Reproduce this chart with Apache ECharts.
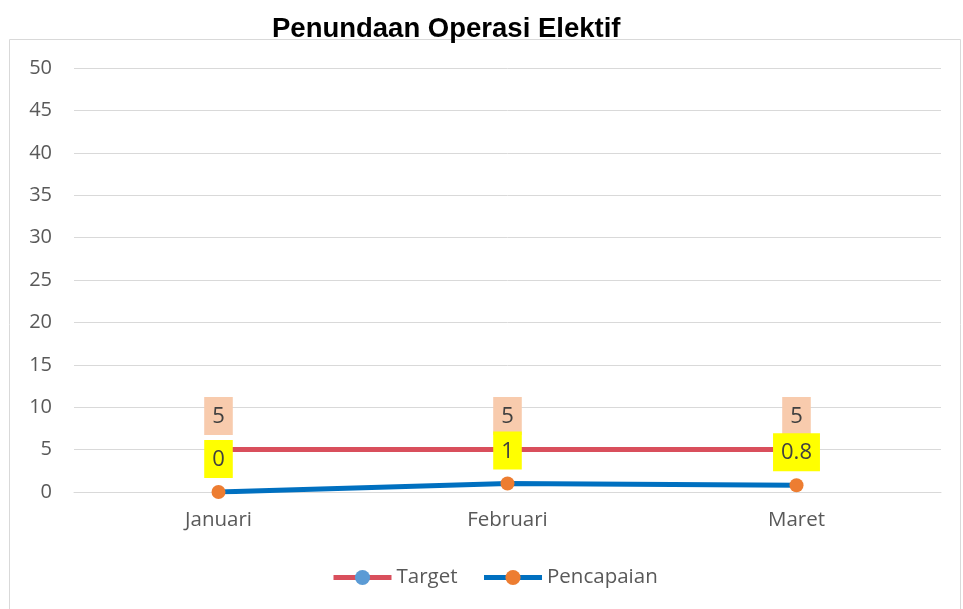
<!DOCTYPE html>
<html>
<head>
<meta charset="utf-8">
<script src="https://cdn.jsdelivr.net/npm/echarts@6/dist/echarts.min.js"></script>
<style>
  html, body { margin: 0; padding: 0; background: #fff; }
  #chart { width: 963px; height: 609px; }
</style>
</head>
<body>
<div id="chart"></div>
<script>
const months = ['Januari', 'Februari', 'Maret'];
const target = [5, 5, 5];
const pencapaian = [0, 1, 0.8];

const font = '"Open Sans", "Liberation Sans", sans-serif';

const chart = echarts.init(document.getElementById('chart'));
chart.setOption({
    animation: false,
    title: {
        text: 'Penundaan Operasi Elektif',
        left: 267,
        top: 10,
        textStyle: { fontFamily: 'Liberation Sans, Arial', fontWeight: 'bold', fontSize: 27.5, color: '#000' }
    },
    graphic: [{
        type: 'rect',
        shape: { x: 9.5, y: 39.5, width: 951, height: 570 },
        style: { fill: 'none', stroke: '#d9d9d9', lineWidth: 1 },
        z: -1
    }],
    grid: { left: 74, right: 22, top: 68, bottom: 117 },
    legend: {
        bottom: 16,
        left: 326,
        itemWidth: 58,
        itemHeight: 19,
        itemGap: 24,
        textStyle: { fontFamily: font, fontSize: 20.5, color: '#595959' },
        data: [
            { name: 'Target', lineStyle: { width: 5 } },
            { name: 'Pencapaian', lineStyle: { width: 5 } }
        ]
    },
    xAxis: {
        type: 'category',
        data: months,
        boundaryGap: true,
        axisLine: { lineStyle: { color: '#d9d9d9', width: 1 } },
        axisTick: { show: false },
        axisLabel: { fontFamily: font, fontSize: 20.5, color: '#595959', margin: 18 }
    },
    yAxis: {
        type: 'value',
        min: 0,
        max: 50,
        interval: 5,
        axisLine: { show: false },
        axisTick: { show: false },
        splitLine: { lineStyle: { color: '#d9d9d9', width: 1 } },
        axisLabel: { fontFamily: font, fontSize: 20, color: '#595959', margin: 22 }
    },
    series: [{
        name: 'Target',
        type: 'line',
        data: target,
        symbol: 'circle',
        symbolSize: 13,
        itemStyle: { color: '#5b9bd5' },
        lineStyle: { color: '#d94f5c', width: 5 },
        label: {
            show: true,
            position: 'top',
            distance: 8,
            fontFamily: font,
            fontSize: 22,
            lineHeight: 26,
            color: '#404040',
            backgroundColor: '#f8cbad',
            padding: [7, 8, 5, 8]
        },
        z: 2
    }, {
        name: 'Pencapaian',
        type: 'line',
        data: pencapaian,
        symbol: 'circle',
        symbolSize: 14,
        itemStyle: { color: '#ed7d31' },
        lineStyle: { color: '#0070c0', width: 5 },
        label: {
            show: true,
            position: 'top',
            distance: 7,
            fontFamily: font,
            fontSize: 22,
            lineHeight: 26,
            color: '#404040',
            backgroundColor: '#ffff00',
            padding: [7, 8, 5, 8]
        },
        z: 3
    }]
});
</script>
</body>
</html>
